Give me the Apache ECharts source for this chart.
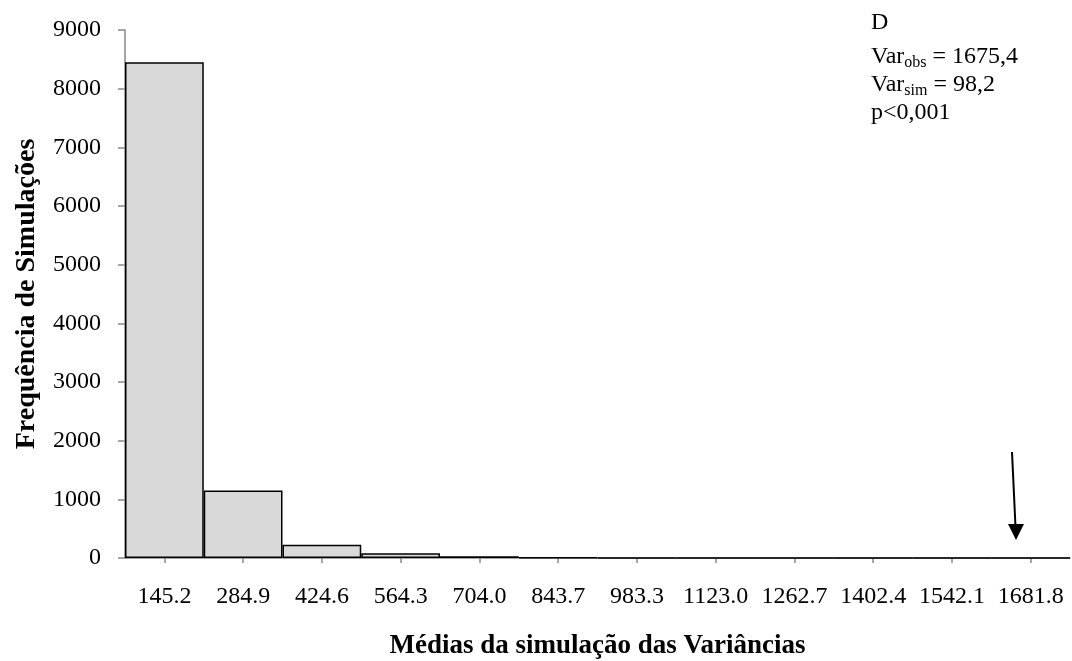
<!DOCTYPE html>
<html>
<head>
<meta charset="utf-8">
<script src="https://cdn.jsdelivr.net/npm/echarts@6/dist/echarts.min.js"></script>
<style>
html,body{margin:0;padding:0;background:#fff;}
#c{width:1072px;height:661px;}
</style>
</head>
<body>
<div id="c"></div>
<script>
const categories = ['145.2','284.9','424.6','564.3','704.0','843.7','983.3','1123.0','1262.7','1402.4','1542.1','1681.8'];
const frequencies = [8450, 1150, 227, 80, 30, 10, 3, 1, 0, 0, 0, 0];
const yTicks = {min: 0, max: 9000, interval: 1000};
const xTitle = 'Médias da simulação das Variâncias';
const yTitle = 'Frequência de Simulações';
const panel = 'D';
const varObs = '1675,4';
const varSim = '98,2';
const pText = 'p<0,001';

const FONT = '"Liberation Serif", "Times New Roman", serif';
const chart = echarts.init(document.getElementById('c'), null, {renderer: 'canvas'});

const richStyles = {
  v: {fontFamily: FONT, fontSize: 24, lineHeight: 28, color: '#000', fontWeight: 'normal', verticalAlign: 'middle'},
  s: {fontFamily: FONT, fontSize: 16, lineHeight: 16, color: '#000', fontWeight: 'normal', verticalAlign: 'bottom'}
};

chart.setOption({
  backgroundColor: '#ffffff',
  animation: false,
  title: [
    {
      left: 866, top: 4,
      text: '{v|' + panel + '}',
      textStyle: {fontFamily: FONT, color: '#000', fontWeight: 'normal', rich: richStyles}
    },
    {
      left: 866, top: 38,
      text: '{v|Var}{s|obs}{v| = ' + varObs + '}\n{v|Var}{s|sim}{v| = ' + varSim + '}\n{v|' + pText + '}',
      textStyle: {fontFamily: FONT, color: '#000', fontWeight: 'normal', rich: richStyles}
    }
  ],
  grid: {left: 125, right: 2, top: 30, bottom: 103, containLabel: false, outerBoundsMode: 'none'},
  xAxis: {
    type: 'category',
    data: categories,
    name: xTitle,
    nameLocation: 'middle',
    nameGap: 75,
    nameTextStyle: {fontFamily: FONT, fontSize: 27, fontWeight: 'bold', color: '#000'},
    axisLine: {show: true, lineStyle: {color: '#898989', width: 1.5}},
    axisTick: {show: true, alignWithLabel: true, length: 5, lineStyle: {color: '#898989', width: 1.5}},
    axisLabel: {fontFamily: FONT, fontSize: 24, color: '#000', margin: 27, interval: 0},
    splitLine: {show: false}
  },
  yAxis: {
    type: 'value',
    min: yTicks.min, max: yTicks.max, interval: yTicks.interval,
    name: yTitle,
    nameLocation: 'middle',
    nameGap: 84,
    nameRotate: 90,
    nameTextStyle: {fontFamily: FONT, fontSize: 28, fontWeight: 'bold', color: '#000'},
    axisLine: {show: true, lineStyle: {color: '#898989', width: 1.5}},
    axisTick: {show: true, inside: false, length: 7, lineStyle: {color: '#898989', width: 1.5}},
    axisLabel: {fontFamily: FONT, fontSize: 24, color: '#000', margin: 24, formatter: function (v) { return String(v); }},
    splitLine: {show: false}
  },
  series: [{
    type: 'bar',
    data: frequencies,
    barCategoryGap: '0%',
    itemStyle: {color: '#d9d9d9', borderColor: '#000', borderWidth: 1.5},
    emphasis: {disabled: true}
  }],
  graphic: [
    {type: 'line', shape: {x1: 1012, y1: 452, x2: 1015.5, y2: 527}, style: {stroke: '#000', lineWidth: 2}},
    {type: 'polygon', shape: {points: [[1008, 524], [1024, 524], [1016, 540]]}, style: {fill: '#000'}}
  ]
});
</script>
</body>
</html>
